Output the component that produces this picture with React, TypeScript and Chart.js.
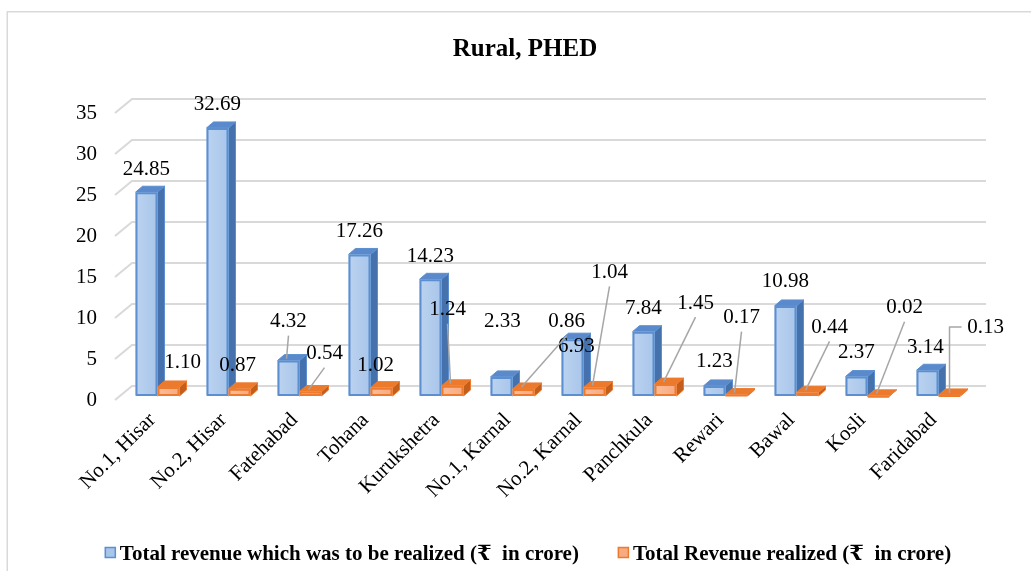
import React, { useEffect, useRef } from "react";
import { Chart, registerables } from "chart.js";

Chart.register(...registerables);

// ---------- data ----------
const categories = [
  "No.1, Hisar",
  "No.2, Hisar",
  "Fatehabad",
  "Tohana",
  "Kurukshetra",
  "No.1, Karnal",
  "No.2, Karnal",
  "Panchkula",
  "Rewari",
  "Bawal",
  "Kosli",
  "Faridabad",
];
const revenueToBeRealized = [24.85, 32.69, 4.32, 17.26, 14.23, 2.33, 6.93, 7.84, 1.23, 10.98, 2.37, 3.14];
const revenueRealized = [1.1, 0.87, 0.54, 1.02, 1.24, 0.86, 1.04, 1.45, 0.17, 0.44, 0.02, 0.13];
const seriesNames = [
  "Total revenue which was to be realized (₹  in crore)",
  "Total Revenue realized (₹  in crore)",
];
const chartTitle = "Rural, PHED";
const yMin = 0;
const yMax = 35;
const yStep = 5;

// ---------- label placement (style: offsets from bar top-centre, leader type) ----------
const blueLabelPlacement: [number, number, number][] = [
  [0, -23, 0], [0, -23, 0], [0, -39, 1], [0, -23, 0], [0, -23, 0], [1, -55, 0],
  [4, 7, 0], [0, -23, 0], [0, -24, 0], [0, -24, 0], [0, -24, 0], [-2, -23, 0],
];
const orangeLabelPlacement: [number, number, number][] = [
  [14, -24, 0], [-2, -23, 0], [14, -38, 1], [-6, -22, 0], [-5, -76, 1], [43, -67, 1],
  [15, -115, 1], [30, -81, 1], [5, -77, 1], [22, -65, 1], [26, -88, 1], [36, -67, 2],
];

const FONT = '"Liberation Serif", "Times New Roman", "DejaVu Serif", serif';
const DX = 7;
const DY = 6;

const palette = [
  { front: "#a8c5ea", frontLight: "#bcd3f0", edge: "#5b8fd0", top: "#5a8acb", side: "#4571ad" },
  { front: "#f8aa80", frontLight: "#fbbd9b", edge: "#ee7a2e", top: "#ec7a2c", side: "#c45e1b" },
];

function drawBar3D(ctx: CanvasRenderingContext2D, el: any, col: any) {
  const w = el.width;
  const l = el.x - w / 2;
  const r = el.x + w / 2;
  const t = Math.min(el.y, el.base);
  const b = el.base;
  ctx.lineJoin = "round";
  // side face
  ctx.beginPath();
  ctx.moveTo(r, t);
  ctx.lineTo(r + DX, t - DY);
  ctx.lineTo(r + DX, b - DY);
  ctx.lineTo(r, b);
  ctx.closePath();
  ctx.fillStyle = col.side;
  ctx.fill();
  ctx.strokeStyle = col.edge;
  ctx.lineWidth = 1;
  ctx.stroke();
  // top face
  ctx.beginPath();
  ctx.moveTo(l, t);
  ctx.lineTo(l + DX, t - DY);
  ctx.lineTo(r + DX, t - DY);
  ctx.lineTo(r, t);
  ctx.closePath();
  ctx.fillStyle = col.top;
  ctx.fill();
  ctx.stroke();
  // front face
  const g = ctx.createLinearGradient(l, 0, r, 0);
  g.addColorStop(0, col.frontLight);
  g.addColorStop(1, col.front);
  ctx.fillStyle = g;
  ctx.fillRect(l, t, w, b - t);
  ctx.strokeStyle = col.edge;
  ctx.lineWidth = 2;
  ctx.strokeRect(l + 1, t + 1, w - 2, Math.max(0, b - t - 2));
}

const plugin3D = {
  id: "plugin3D",
  beforeDraw(chart: any) {
    const { ctx, chartArea: area } = chart;
    ctx.save();
    ctx.fillStyle = "#ffffff";
    ctx.fillRect(0, 0, chart.width, chart.height);
    // outer border
    ctx.strokeStyle = "#d9d9d9";
    ctx.lineWidth = 1.5;
    ctx.strokeRect(7.25, 11.75, 1400, 900);
    // title
    ctx.fillStyle = "#000";
    ctx.font = `bold 25px ${FONT}`;
    ctx.textAlign = "center";
    ctx.textBaseline = "alphabetic";
    ctx.fillText(chartTitle, 525, 56);
    // 3D gridlines (side wall + back wall)
    const ys = chart.scales.y;
    ctx.strokeStyle = "#d9d9d9";
    ctx.lineWidth = 2;
    ys.ticks.forEach((t: any) => {
      const py = ys.getPixelForValue(t.value);
      ctx.beginPath();
      ctx.moveTo(area.left - 7, py + 4);
      ctx.lineTo(area.left + 10, py - 10);
      ctx.lineTo(area.right + 12, py - 10);
      ctx.stroke();
    });
    // legend
    ctx.font = `bold 21px ${FONT}`;
    const box = 11;
    const gap = 4;
    const itemGap = 39;
    const w1 = ctx.measureText(seriesNames[0]).width;
    const w2 = ctx.measureText(seriesNames[1]).width;
    const total = box + gap + w1 + itemGap + box + gap + w2;
    let x = 528 - total / 2;
    const base = 560;
    [0, 1].forEach((i) => {
      const col = palette[i];
      ctx.fillStyle = col.front;
      ctx.fillRect(x, base - 13, box, box);
      ctx.strokeStyle = col.edge;
      ctx.lineWidth = 1.5;
      ctx.strokeRect(x + 0.5, base - 12.5, box - 1, box - 1);
      x += box + gap;
      ctx.fillStyle = "#000";
      ctx.textAlign = "left";
      ctx.textBaseline = "alphabetic";
      ctx.fillText(seriesNames[i], x, base);
      x += (i === 0 ? w1 : w2) + itemGap;
    });
    ctx.restore();
  },
  afterDatasetsDraw(chart: any) {
    const { ctx } = chart;
    const m0 = chart.getDatasetMeta(0).data;
    const m1 = chart.getDatasetMeta(1).data;
    ctx.save();
    for (let i = 0; i < categories.length; i++) {
      drawBar3D(ctx, m0[i], palette[0]);
      drawBar3D(ctx, m1[i], palette[1]);
    }
    // labels
    ctx.font = `21px ${FONT}`;
    ctx.textAlign = "center";
    ctx.textBaseline = "middle";
    const drawLabels = (meta: any[], values: number[], place: [number, number, number][]) => {
      for (let i = 0; i < values.length; i++) {
        const el = meta[i];
        const [dx, dy, leader] = place[i];
        const lx = el.x + dx;
        const ly = el.y + dy;
        ctx.strokeStyle = "#a6a6a6";
        ctx.lineWidth = 1.5;
        if (leader === 1) {
          ctx.beginPath();
          ctx.moveTo(lx, ly + 14);
          ctx.lineTo(el.x - 2, el.y - 2);
          ctx.stroke();
        } else if (leader === 2) {
          ctx.beginPath();
          ctx.moveTo(lx - 24, ly - 1);
          ctx.lineTo(el.x, ly - 1);
          ctx.lineTo(el.x, el.y - 2);
          ctx.stroke();
        }
        ctx.fillStyle = "#000";
        ctx.fillText(values[i].toFixed(2), lx, ly);
      }
    };
    drawLabels(m0, revenueToBeRealized, blueLabelPlacement);
    drawLabels(m1, revenueRealized, orangeLabelPlacement);
    ctx.restore();
  },
};

export default function App() {
  const ref = useRef<HTMLCanvasElement | null>(null);
  useEffect(() => {
    if (!ref.current) return;
    const chart = new Chart(ref.current, {
      type: "bar",
      data: {
        labels: categories,
        datasets: [
          {
            label: seriesNames[0],
            data: revenueToBeRealized,
            backgroundColor: "rgba(0,0,0,0)",
            borderWidth: 0,
          },
          {
            label: seriesNames[1],
            data: revenueRealized,
            backgroundColor: "rgba(0,0,0,0)",
            borderWidth: 0,
          },
        ],
      },
      options: {
        responsive: false,
        animation: false,
        layout: { padding: { top: 109, right: 57, bottom: 0, left: 0 } },
        plugins: {
          legend: { display: false },
          title: { display: false },
          tooltip: { enabled: false },
        },
        datasets: { bar: { categoryPercentage: 0.62, barPercentage: 1 } },
        scales: {
          x: {
            grid: { display: false, drawTicks: false },
            border: { display: false },
            ticks: {
              autoSkip: false,
              maxRotation: 45,
              minRotation: 45,
              color: "#000",
              font: { family: FONT, size: 21 },
              padding: 12,
              labelOffset: -5,
            },
            afterFit: (s: any) => {
              s.height = 175;
            },
          },
          y: {
            min: yMin,
            max: yMax,
            grid: { display: false, drawTicks: false },
            border: { display: false },
            ticks: {
              stepSize: yStep,
              color: "#000",
              font: { family: FONT, size: 21 },
              padding: 25,
              labelOffset: 4,
            },
            afterFit: (s: any) => {
              s.width = 122;
            },
          },
        },
      },
      plugins: [plugin3D],
    });
    return () => chart.destroy();
  }, []);
  return (
    <div style={{ position: "fixed", left: 0, top: 0, width: 1031, height: 571, background: "#fff" }}>
      <canvas ref={ref} width={1031} height={571} />
    </div>
  );
}
